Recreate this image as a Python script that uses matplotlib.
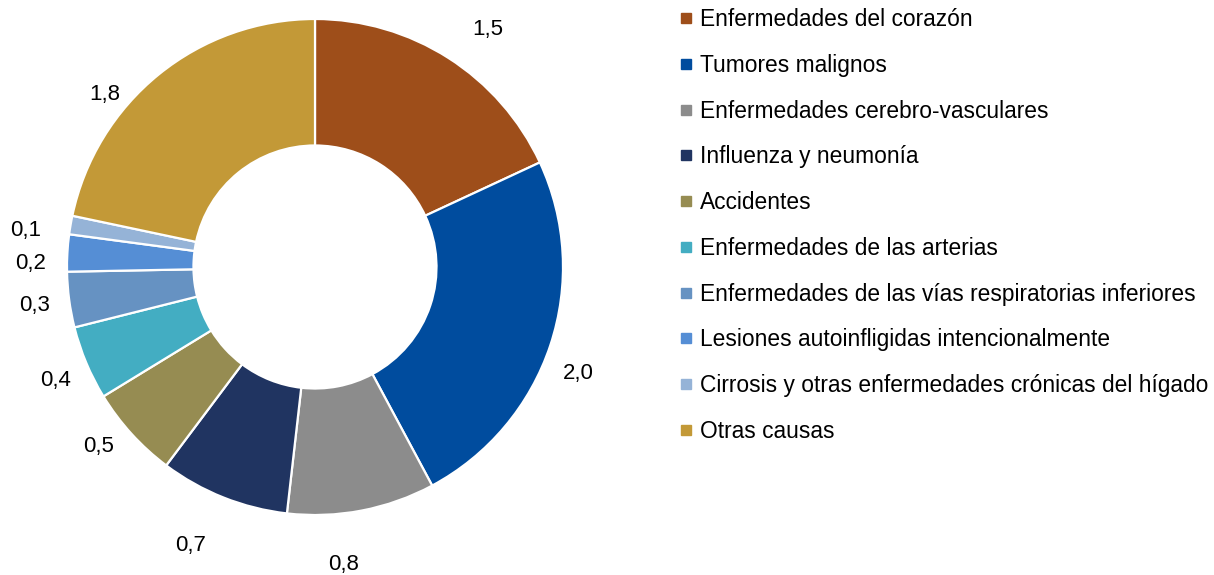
import matplotlib
matplotlib.use('Agg')
import matplotlib.pyplot as plt
from matplotlib.lines import Line2D

# ── Data ─────────────────────────────────────────────
categories = ['Enfermedades del corazón', 'Tumores malignos',
              'Enfermedades cerebro-vasculares', 'Influenza y neumonía',
              'Accidentes', 'Enfermedades de las arterias',
              'Enfermedades de las vías respiratorias inferiores',
              'Lesiones autoinfligidas intencionalmente',
              'Cirrosis y otras enfermedades crónicas del hígado',
              'Otras causas']
values = [1.5, 2.0, 0.8, 0.7, 0.5, 0.4, 0.3, 0.2, 0.1, 1.8]
colors = ['#9E4E1A', '#004C9E', '#8C8C8C', '#203461', '#968C52',
          '#43ADC2', '#6692C2', '#558ED5', '#95B3D7', '#C39937']

# label nudges (px, right / down) from the default outside position, Excel-style
label_nudge = [(18, 5), (-10, 16), (-26, 15), (-18, 11), (-4, -14),
               (6, 2), (5, 1), (3, 13), (-6, 12), (-29, 51)]

plt.rcParams['font.family'] = ['Liberation Sans', 'DejaVu Sans']

W, H = 1214, 575
fig = plt.figure(figsize=(W / 100, H / 100), dpi=100)

# pie axes placed so the ring centre sits at (315, 267) px, radius 248 px
cx, cy, r = 315, 267, 248
ax = fig.add_axes([(cx - r) / W, (H - cy - r) / H, 2 * r / W, 2 * r / H])

labels_txt = [f'{v:.1f}'.replace('.', ',') for v in values]
wedges, texts = ax.pie(values, colors=colors, startangle=90, counterclock=False,
                       labels=labels_txt, labeldistance=1.16,
                       wedgeprops=dict(width=0.51, edgecolor='white', linewidth=1.6),
                       textprops=dict(fontsize=16, color='black'))
for t, (dx, dy) in zip(texts, label_nudge):
    x, y = t.get_position()
    t.set_position((x + dx / r, y - dy / r))
    t.set_ha('center')
    t.set_va('center')
ax.set_xlim(-1, 1)
ax.set_ylim(-1, 1)
ax.set_aspect('equal')
ax.axis('off')

handles = [Line2D([], [], marker='s', linestyle='none', markersize=6.5,
                  markerfacecolor=c, markeredgecolor=c) for c in colors]
fig.legend(handles, categories, loc='upper left', bbox_to_anchor=(680 / W, 1 - 8 / H),
           frameon=False, fontsize=16.4, handlelength=0.5, handletextpad=0.38,
           labelspacing=1.0, borderaxespad=0, borderpad=0)

fig.savefig('out.png', dpi=100)
